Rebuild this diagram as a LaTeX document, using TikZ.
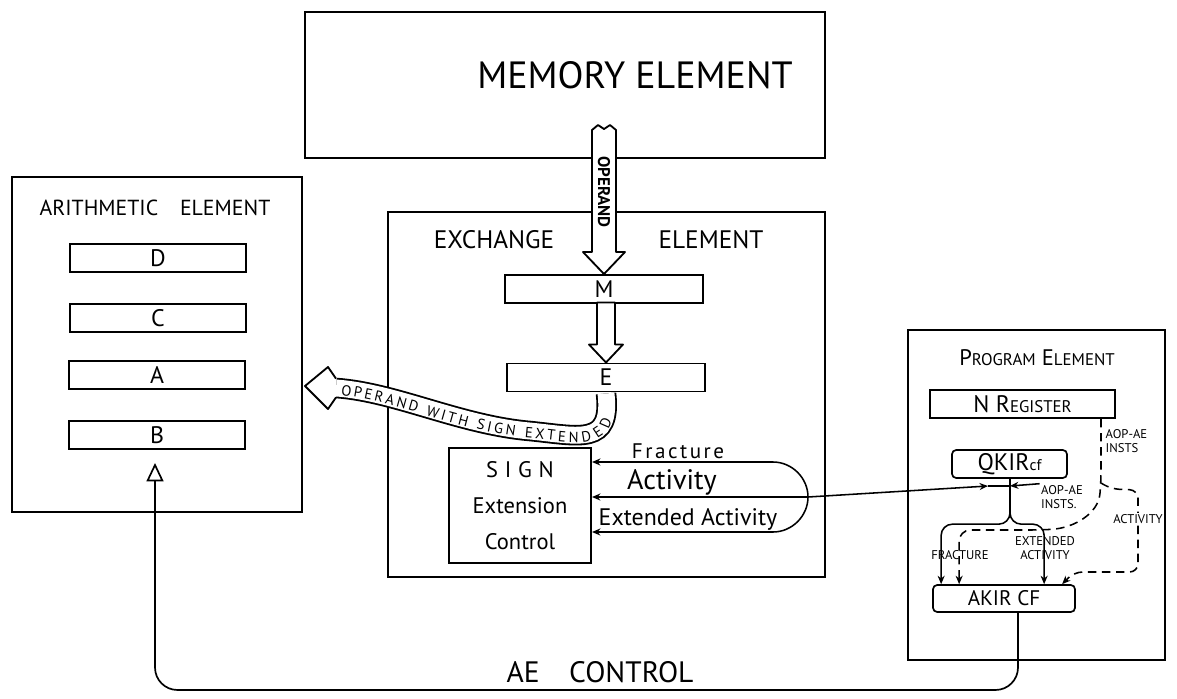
\documentclass[tikz,border=0pt]{standalone}
\usepackage{fontspec}
\setmainfont{PT Sans}
\usetikzlibrary{arrows.meta,calc,decorations.text}
\newcommand{\scap}[2]{#1{\fontsize{12}{12}\selectfont #2}}
\tikzset{
  element/.style={draw, line width=1.4pt},
  register/.style={draw, line width=1.4pt, minimum width=4.4cm, minimum height=0.7cm, inner sep=0pt, font=\fontsize{17}{17}\selectfont},
  ctrlreg/.style={draw, line width=1.2pt, rounded corners=3pt, inner sep=0pt, minimum height=0.7cm},
  fatarrow/.style={line width=1.3pt, fill=white, line join=round},
  sig/.style={line width=1.1pt, -{Stealth[length=6pt,width=5pt]}},
  dsig/.style={sig, dash pattern=on 6pt off 4pt},
  smalltxt/.style={font=\fontsize{9}{10}\selectfont, align=left, inner sep=1pt},
}
\begin{document}
\begin{tikzpicture}[x=0.025cm,y=-0.025cm]
\useasboundingbox (0,0) rectangle (1177,698);

\node[element, minimum width=13cm, minimum height=3.65cm] (mem) at (565,85) {};
\node[font=\fontsize{27}{27}\selectfont] (memlbl) at (635,75) {MEMORY ELEMENT};

\node[element, minimum width=10.925cm, minimum height=9.125cm] (xch) at (606.5,394.5) {};
\node[font=\fontsize{18}{18}\selectfont] (xchlbl) at (494,240) {EXCHANGE};
\node[font=\fontsize{18}{18}\selectfont] (xchlbl2) at (711,240) {ELEMENT};
\node[register, minimum width=4.95cm] (M) at (604,289) {M};
\node[register, minimum width=4.95cm] (E) at (606,377.5) {E};

\draw[fatarrow] (M.north) -- ++(-21,-22) -- ++(9,0) -- ++(0,-122) -- ++(6,-5) -- ++(6,4)
  -- ++(6,-4) -- ++(6,5) -- ++(0,122) -- ++(9,0) -- cycle;
\node[rotate=-90, font=\bfseries\fontsize{12}{12}\selectfont] (oplbl) at (604,192) {OPERAND};
\draw[fatarrow] (E.north) -- ++(-17,-18) -- ++(8,0) -- ++(0,-42) -- ++(18,0) -- ++(0,42) -- ++(8,0) -- cycle;

\node[element, minimum width=7.25cm, minimum height=8.375cm] (ae) at (157,344.5) {};
\node[font=\fontsize{15.5}{15.5}\selectfont] (aelbl) at (155,208) {ARITHMETIC\quad ELEMENT};
\node[register] (D) at (158,258) {D};
\node[register] (C) at (158,318) {C};
\node[register] (A) at (157,375) {A};
\node[register] (B) at (157,435) {B};

\coordinate (opbase) at (336,388);
\coordinate (optip) at (305,386);
\draw[line width=1.3pt, double=white, double distance=12pt] ($(E.south)+(0,1)$)
  .. controls (612,446) and (580,436) .. (530,431) .. controls (460,425) and (395,392) .. (opbase);
\fill[white] (optip) -- ($(opbase)+(-8,-21)$) -- ($(opbase)+(0,-9.4)$) -- ($(opbase)+(0,9.4)$) -- ($(opbase)+(-8,21)$) -- cycle;
\draw[line width=1.3pt, line join=round] ($(opbase)+(0,-9.4)$) -- ($(opbase)+(-8,-21)$) -- (optip)
  -- ($(opbase)+(-8,21)$) -- ($(opbase)+(0,9.4)$);
\path[decorate, decoration={text along path, text align={fit to path, left indent=4pt, right indent=17pt}, raise=-5pt,
  text={|\fontsize{10.5}{10.5}\selectfont|OPERAND WITH SIGN EXTENDED}}]
  (opbase) .. controls (395,392) and (460,425) .. (530,431) .. controls (580,436) and (612,446) .. ($(E.south)+(0,1)$);

\node[element, minimum width=3.55cm, minimum height=2.875cm, align=center,
  font=\fontsize{16}{25.6}\selectfont] (sec) at (520,505.5) {{\addfontfeature{LetterSpace=30}SIGN}\\Extension\\Control};
\coordinate (loop) at (808,497);
\coordinate (fr) at (0,462);
\coordinate (ex) at (0,532);
\draw[sig] (loop) .. controls (808,478) and (792,462) .. (773,462) -- (sec.east |- fr);
\draw[sig] (loop) -- (sec.east |- loop);
\draw[sig] (loop) .. controls (808,516) and (792,532) .. (773,532) -- (sec.east |- ex);
\node[font=\fontsize{15}{15}\selectfont] (frlbl) at (678,451) {{\addfontfeature{LetterSpace=12}Fracture}};
\node[font=\fontsize{20}{20}\selectfont] (aclbl) at (672,482) {Activity};
\node[font=\fontsize{17}{17}\selectfont] (exlbl) at (688,519) {Extended Activity};

\node[element, minimum width=6.425cm, minimum height=8.25cm] (prog) at (1036.5,495) {};
\node[font=\fontsize{16}{16}\selectfont] (proglbl) at (1037,358) {\scap{P}{ROGRAM} \scap{E}{LEMENT}};
\node[register, minimum width=4.625cm, font=\fontsize{17}{17}\selectfont] (nreg) at (1022.5,404) {N \scap{R}{EGISTER}};
\node[ctrlreg, minimum width=2.875cm, font=\fontsize{17}{17}\selectfont] (qkir) at (1009.5,464) {QKIR{\fontsize{11}{11}\selectfont cf}};
\node[ctrlreg, minimum width=3.55cm, minimum height=0.675cm, font=\fontsize{15}{15}\selectfont] (akir) at (1004,598.5) {AKIR CF};

\coordinate (tap) at (1010,486);
\coordinate (qin) at (988,486);
\draw[sig] (loop) -- (qin);
\draw[line width=1.1pt] (qin) -- (tap) -- (qkir.south -| tap);
\draw[sig, rounded corners=8] (tap) |- ($(akir.north west)+(9,-60)$) -- ($(akir.north west)+(9,0)$);
\draw[sig, rounded corners=8] (tap) |- ($(akir.north west)+(112,-60)$) -- ($(akir.north west)+(112,0)$);

\draw[dsig, rounded corners=8] ($(nreg.south east)+(-15,0)$) -- ++(0,64) coordinate (dsplit)
  .. controls +(-3,30) and +(35,-2) .. (1040,530) -| ($(akir.north west)+(27,0)$);
\draw[dsig, rounded corners=6] (dsplit) -- ++(10,6) -- (1138,490) -- (1138,572) -- (1074,572)
  -- ($(akir.north west)+(130,0)$);

\node[smalltxt, anchor=west] (aopa) at (1104,441) {AOP-AE\\INSTS};
\node[smalltxt, fill=white] (actlbl) at (1138,519) {ACTIVITY};
\node[smalltxt] (aopb) at (1062,497) {AOP-AE\\INSTS.};
\draw[sig] (aopb.north west) -- (tap);
\node[smalltxt] (fraclbl) at (960,555) {FRACTURE};
\node[smalltxt, align=center] (extlbl) at (1045,548) {EXTENDED\\ACTIVITY};

\draw[line width=1.2pt, rounded corners=16, -{Triangle[open,length=13pt,width=12pt]}]
  ($(akir.south)+(14,0)$) |- ($(B.south)+(-2,240)$) -- ($(B.south)+(-2,13)$);
\node[font=\fontsize{21}{21}\selectfont] (aectl) at (600,672) {AE\quad CONTROL};
\end{tikzpicture}
\end{document}
